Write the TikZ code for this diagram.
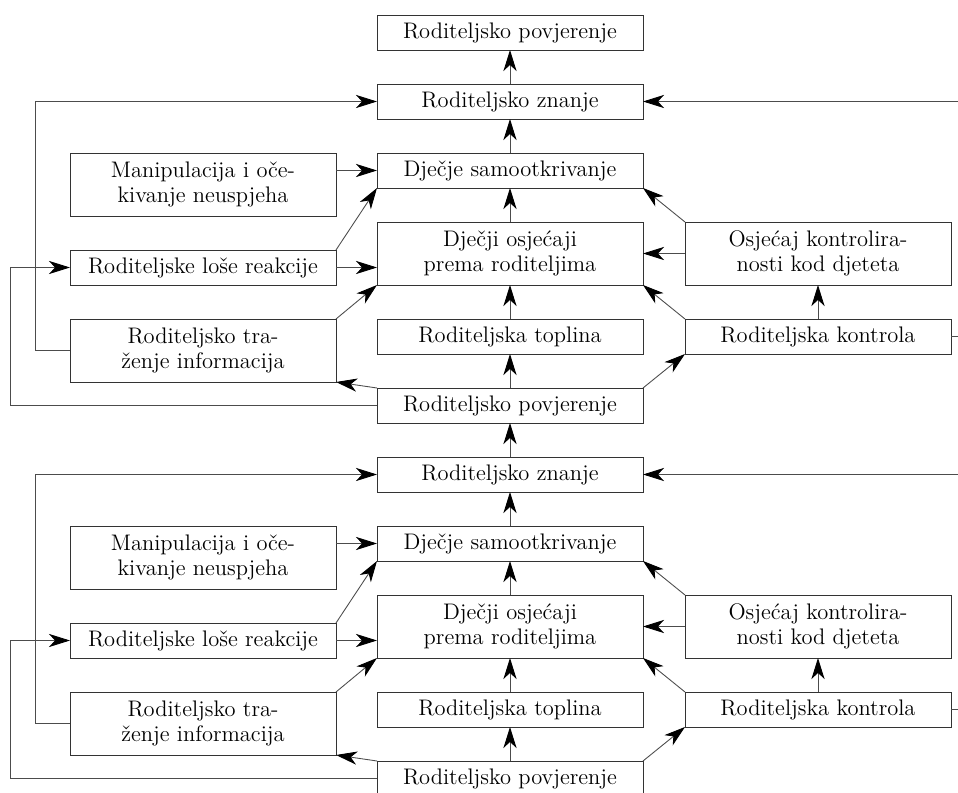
\documentclass[tikz,border=0pt]{standalone}
\usepackage{tikz}
\usetikzlibrary{arrows.meta,positioning,calc}
\tikzset{
    box/.style={
        rectangle,
        draw=black!80,
        fill=white,
        line width=0.5pt,
        minimum width=5.32cm,
        minimum height=0.7cm,
        inner sep=2pt,
        outer sep=0pt,
        align=center,
        font=\fontsize{12.8pt}{14.2pt}\selectfont,
    },
    dbox/.style={
        box,
        minimum height=1.26cm,
    },
    veza/.style={
        ->,
        draw=black!70,
        line width=0.5pt,
    },
}

\begin{document}
\begin{tikzpicture}[node distance=0.68cm and 0.82cm,>={Stealth[length=12pt,width=7.5pt,inset=3.5pt,color=black]}]
    \useasboundingbox (-10.2,-0.27) rectangle (8.96,15.57);
    \coordinate (rub) at (8.96,0);
    \node [box] (pov0) at (0,0) {Roditeljsko povjerenje};
    \foreach \i/\j in {1/0,2/1} {
        \node [box, above=of pov\j] (topl\i) {Roditeljska toplina};
        \node [dbox, above=of topl\i] (osj\i) {Dječji osjećaji\\prema roditeljima};
        \node [box, above=of osj\i] (samo\i) {Dječje samootkrivanje};
        \node [box, above=of samo\i] (znanje\i) {Roditeljsko znanje};
        \node [box, above=of znanje\i] (pov\i) {Roditeljsko povjerenje};
        \node [dbox, left=of topl\i.north west, anchor=north east] (traz\i) {Roditeljsko tra-\\ženje informacija};
        \node [box, above=of traz\i] (reak\i) {Roditeljske loše reakcije};
        \node [dbox, above=of reak\i] (manip\i) {Manipulacija i oče-\\kivanje neuspjeha};
        \node [box, right=0.84cm of topl\i] (kontr\i) {Roditeljska kontrola};
        \node [dbox, right=0.84cm of osj\i] (kosj\i) {Osjećaj kontrolira-\\nosti kod djeteta};

        \draw [veza] (pov\j) -- (topl\i);
        \draw [veza] (topl\i) -- (osj\i);
        \draw [veza] (osj\i) -- (samo\i);
        \draw [veza] (samo\i) -- (znanje\i);
        \draw [veza] (znanje\i) -- (pov\i);
        \draw [veza] (manip\i.east |- samo\i.west) -- (samo\i.west);
        \draw [veza] (reak\i.north east) -- (samo\i.south west);
        \draw [veza] (reak\i.east) -- (reak\i.east -| osj\i.west);
        \draw [veza] (traz\i.north east) -- (osj\i.south west);
        \draw [veza] (pov\j.north west) -- (traz\i.south east);
        \draw [veza] (pov\j.north east) -- (kontr\i.south west);
        \draw [veza] (kontr\i.north west) -- (osj\i.south east);
        \draw [veza] (kontr\i) -- (kosj\i);
        \draw [veza] (kosj\i) -- (osj\i);
        \draw [veza] (kosj\i.north west) -- (samo\i.south east);
        \draw [veza] (traz\i.west) -- ++(-0.7,0) |- (znanje\i.west);
        \draw [veza] (pov\j.west) -- ++(-7.34,0) |- (reak\i.west);
        \draw [veza,-] (kontr\i.east) -- (kontr\i.east -| rub);
        \draw [veza] (znanje\i.east -| rub) -- (znanje\i.east);
    }
\end{tikzpicture}
\end{document}
